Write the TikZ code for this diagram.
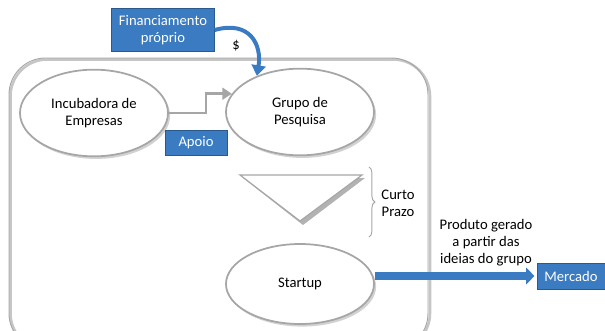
\documentclass[tikz,border=0pt]{standalone}
\usepackage{fontspec}
\setmainfont{Carlito}
\usetikzlibrary{positioning, arrows.meta, shapes.geometric, decorations.pathreplacing, shadows}
\definecolor{boxblue}{HTML}{3A7BC1}
\definecolor{edgeblue}{HTML}{2A5A8C}
\definecolor{linegray}{HTML}{A6A6A6}

\begin{document}
\begin{tikzpicture}[x=0.03cm, y=-0.03cm, font=\fontsize{12.5}{14.5}\selectfont,
    bubble/.style={ellipse, draw=linegray, line width=1.5pt, fill=white,
      minimum width=4.44cm, minimum height=2.6cm, align=center,
      drop shadow={shadow xshift=1.8pt, shadow yshift=-2.2pt, fill=gray!70}},
    tag/.style={fill=boxblue, draw=edgeblue, text=white, align=center, inner sep=2pt}]
  \useasboundingbox (0,0) rectangle (605,331);
  \clip (0,0) rectangle (605,331);

  % moldura
  \draw[gray!45, line width=2.2pt, rounded corners=1.1cm] (10.5,59.5) rectangle (430,350);
  \draw[linegray, line width=0.8pt, rounded corners=1.1cm] (9,58) rectangle (428,350);

  \node[bubble] (incub) at (94,113) {Incubadora de\\Empresas};
  \node[bubble] (grupo) at (300,112) {Grupo de\\Pesquisa};
  \node[bubble, minimum height=2.4cm] (startup) at (300,284) {Startup};

  % funil
  \fill[gray!60] (243,178) -- (365,178) -- (303,225) -- cycle;
  \draw[linegray, fill=white, line width=1pt] (240,175) coordinate (f1) -- (362,175) coordinate (f2)
    -- (300,221) coordinate (f3) -- cycle;
  \draw[linegray, line width=0.8pt, decorate, decoration={brace, amplitude=5pt}]
    (369,167) coordinate (b1) -- (369,237) coordinate (b2);
  \node[align=center] (prazo) at (398,203) {Curto\\Prazo};

  \node[tag, minimum width=3.09cm, minimum height=1.29cm] (financ) at (163,30) {Financiamento\\próprio};
  \node[tag, minimum width=1.86cm, minimum height=0.75cm] (apoio) at (196,143) {Apoio};
  \node[tag, minimum width=2.04cm, minimum height=0.78cm] (mercado) at (571,276) {Mercado};

  \draw[boxblue, line width=3.4pt, -{Triangle[length=9pt, width=12pt]}]
    (financ.east) .. controls (250,20) and (262,45) .. (grupo.140);
  \node (cifrao) at (236,46) {\$};

  \draw[linegray, line width=2.2pt, -{Triangle[length=8pt, width=10pt]}]
    (incub.east) -- ++(37,0) |- (grupo.165);

  \draw[boxblue, line width=6.8pt, shorten >=2pt, -{Triangle[length=7pt, width=14pt]}]
    (startup.east |- mercado.west) -- (mercado.west);
  \node[align=center] (produto) at (486,243) {Produto gerado\\a partir das\\ideias do grupo};
\end{tikzpicture}
\end{document}
